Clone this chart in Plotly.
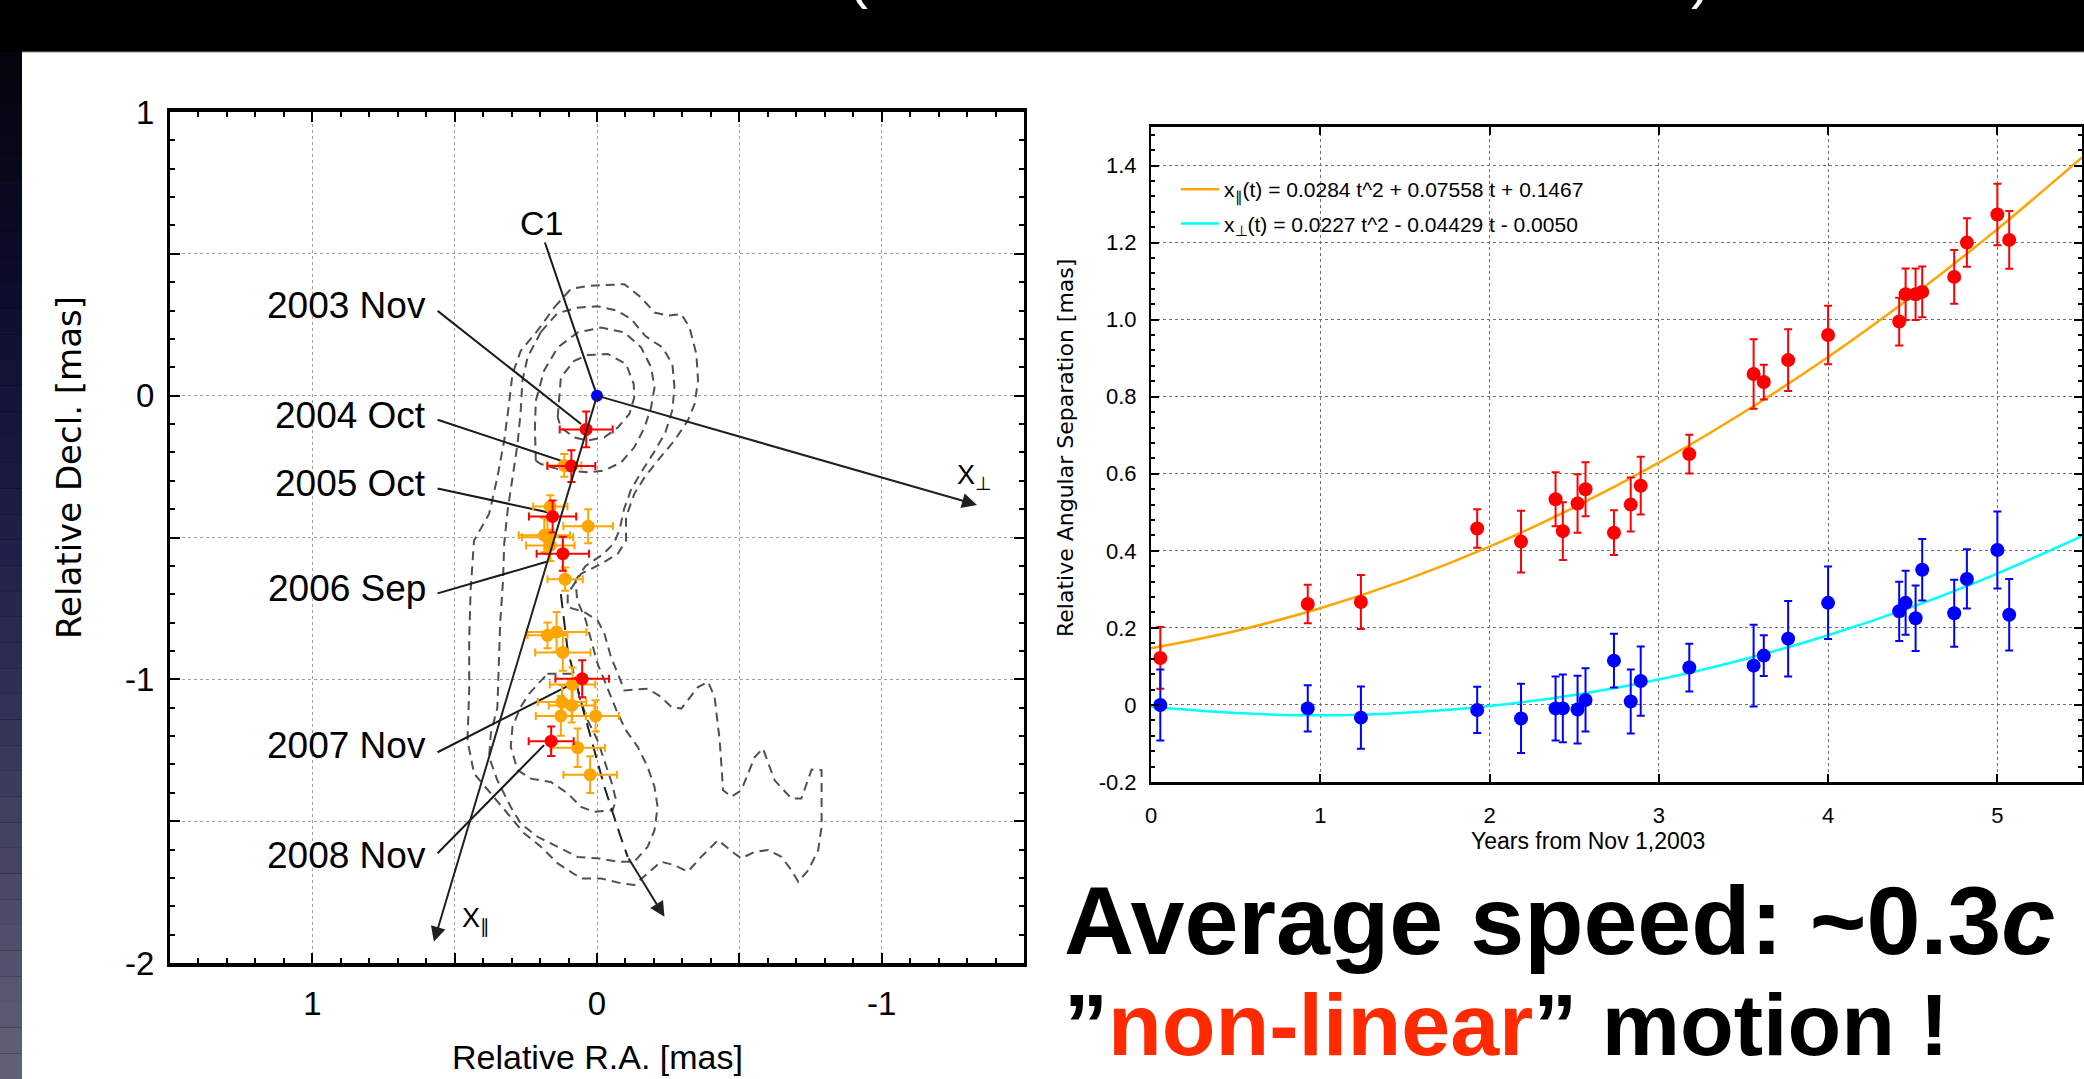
import plotly.graph_objects as go

W, H = 2084, 1079
FONT = "Liberation Sans, Arial, Helvetica, sans-serif"
VFONT = "DejaVu Sans, Verdana, sans-serif"

# ---------------- Left panel: positions on the sky (mas) ----------------
core_ra = [0.0]
core_dec = [0.0]

red_ra = [0.038, 0.090, 0.156, 0.120, 0.052, 0.161]
red_dec = [-0.119, -0.248, -0.426, -0.557, -0.998, -1.218]
red_ra_err = [0.093, 0.084, 0.083, 0.092, 0.094, 0.079]
red_dec_err = [0.063, 0.056, 0.056, 0.060, 0.065, 0.052]

orange_ra = [0.115, 0.164, 0.031, 0.174, 0.164, 0.185, 0.112, 0.174, 0.142, 0.120,
             0.086, 0.123, 0.089, 0.127, 0.005, 0.068, 0.024]
orange_dec = [-0.246, -0.391, -0.460, -0.499, -0.528, -0.492, -0.647, -0.845, -0.833, -0.905,
              -1.018, -1.080, -1.092, -1.129, -1.129, -1.241, -1.336]
orange_ra_err = [0.060, 0.060, 0.087, 0.090, 0.085, 0.090, 0.062, 0.070, 0.105, 0.097,
                 0.080, 0.085, 0.080, 0.088, 0.082, 0.096, 0.094]
orange_dec_err = [0.040, 0.040, 0.060, 0.060, 0.055, 0.060, 0.041, 0.045, 0.070, 0.065,
                  0.060, 0.060, 0.060, 0.070, 0.055, 0.068, 0.065]

# contour rings (dashed)
ringA = [(0.15, 0.311), (0.092, 0.376), (0.033, 0.387), (-0.038, 0.391), (-0.096, 0.393), (-0.155, 0.346),
         (-0.202, 0.293), (-0.249, 0.282), (-0.296, 0.288), (-0.325, 0.241), (-0.349, 0.147), (-0.355, 0.053),
         (-0.343, -0.029), (-0.319, -0.088), (-0.272, -0.158), (-0.213, -0.229), (-0.167, -0.288),
         (-0.131, -0.346), (-0.102, -0.428), (-0.102, -0.511), (-0.073, -0.557), (-0.014, -0.593),
         (0.056, -0.628), (0.103, -0.698), (0.103, -0.745), (0.045, -0.763), (-0.002, -0.792),
         (-0.026, -0.839), (-0.049, -0.921), (-0.073, -0.98), (-0.096, -1.039), (-0.178, -1.033),
         (-0.225, -1.062), (-0.261, -1.097), (-0.296, -1.103), (-0.355, -1.027), (-0.39, -1.009),
         (-0.413, -1.062), (-0.431, -1.215), (-0.443, -1.391), (-0.472, -1.414), (-0.507, -1.391),
         (-0.554, -1.274), (-0.583, -1.244), (-0.624, -1.356), (-0.683, -1.42), (-0.718, -1.42),
         (-0.754, -1.318), (-0.789, -1.32), (-0.789, -1.52), (-0.777, -1.602), (-0.742, -1.673),
         (-0.707, -1.714), (-0.683, -1.673), (-0.648, -1.626), (-0.601, -1.602), (-0.554, -1.608),
         (-0.507, -1.631), (-0.483, -1.614), (-0.425, -1.567), (-0.366, -1.626), (-0.319, -1.678),
         (-0.272, -1.655), (-0.225, -1.643), (-0.178, -1.684), (-0.131, -1.725), (-0.085, -1.719),
         (-0.014, -1.702), (0.056, -1.702), (0.138, -1.649), (0.197, -1.59), (0.256, -1.543),
         (0.314, -1.473), (0.373, -1.402), (0.432, -1.332), (0.455, -1.215), (0.449, -1.039),
         (0.449, -0.863), (0.444, -0.687), (0.432, -0.511), (0.379, -0.417), (0.35, -0.288),
         (0.326, -0.158), (0.309, -0.029), (0.297, 0.076), (0.268, 0.158), (0.209, 0.229), (0.15, 0.311)]
ringB = [(0.197, 0.225), (0.14, 0.29), (0.07, 0.31), (0.0, 0.315), (-0.07, 0.30), (-0.12, 0.27),
         (-0.17, 0.21), (-0.23, 0.17), (-0.265, 0.11), (-0.272, 0.03), (-0.265, -0.05), (-0.24, -0.13),
         (-0.2, -0.2), (-0.155, -0.27), (-0.12, -0.33), (-0.095, -0.4), (-0.08, -0.47), (-0.06, -0.52),
         (-0.02, -0.56), (0.04, -0.6), (0.075, -0.65), (0.07, -0.72), (0.04, -0.79), (0.021, -0.863),
         (-0.002, -0.945), (-0.026, -1.004), (-0.049, -1.062), (-0.073, -1.121), (-0.102, -1.18),
         (-0.143, -1.238), (-0.178, -1.309), (-0.202, -1.379), (-0.213, -1.45), (-0.202, -1.532),
         (-0.178, -1.59), (-0.131, -1.643), (-0.073, -1.643), (-0.002, -1.631), (0.068, -1.626),
         (0.138, -1.59), (0.209, -1.555), (0.268, -1.508), (0.303, -1.45), (0.35, -1.356),
         (0.379, -1.274), (0.373, -1.191), (0.35, -1.1), (0.345, -0.95), (0.34, -0.8), (0.33, -0.65),
         (0.326, -0.522), (0.314, -0.405), (0.297, -0.288), (0.279, -0.17), (0.268, -0.053),
         (0.262, 0.053), (0.244, 0.135), (0.197, 0.225)]
ringC = [(0.215, -0.229), (0.218, -0.112), (0.215, -0.018), (0.186, 0.088), (0.138, 0.17), (0.068, 0.223),
         (-0.014, 0.24), (-0.096, 0.223), (-0.155, 0.17), (-0.19, 0.1), (-0.202, 0.029), (-0.19, -0.041),
         (-0.167, -0.112), (-0.131, -0.182), (-0.085, -0.235), (-0.026, -0.264), (0.033, -0.27),
         (0.127, -0.262), (0.197, -0.241), (0.215, -0.229)]
ringD = [(0.138, -0.076), (0.127, 0.064), (0.08, 0.123), (0.033, 0.143), (-0.038, 0.147), (-0.102, 0.112),
         (-0.129, 0.041), (-0.131, -0.006), (-0.114, -0.064), (-0.073, -0.112), (-0.026, -0.147),
         (0.033, -0.158), (0.08, -0.147), (0.127, -0.112), (0.138, -0.076)]
ringE = [(0.174, -0.98), (0.08, -0.98), (0.062, -1.062), (0.033, -1.144), (-0.002, -1.215), (-0.026, -1.285),
         (-0.049, -1.356), (-0.067, -1.426), (-0.055, -1.461), (0.01, -1.467), (0.056, -1.45),
         (0.103, -1.402), (0.162, -1.362), (0.232, -1.35), (0.279, -1.32), (0.303, -1.238),
         (0.297, -1.168), (0.268, -1.097), (0.238, -1.05), (0.174, -0.98)]
contour_rings = [ringA, ringB, ringC, ringD, ringE]

# trajectory of the knots (long dashes) and its arrow
traj_ra = [0.127, 0.103, 0.045, -0.026, -0.079, -0.108]
traj_dec = [-0.70, -0.898, -1.121, -1.379, -1.543, -1.626]
traj_tip = (-0.237, -1.837)

# epoch labels and their leader lines
epoch_labels = ["2003 Nov", "2004 Oct", "2005 Oct", "2006 Sep", "2007 Nov", "2008 Nov"]
label_ra = 0.595
label_dec = [0.317, -0.07, -0.31, -0.68, -1.232, -1.62]
leader_start = [(0.56, 0.299), (0.56, -0.085), (0.56, -0.327), (0.56, -0.697), (0.56, -1.257), (0.56, -1.613)]
leader_end = [(0.056, -0.10), (0.109, -0.235), (0.174, -0.411), (0.162, -0.581), (0.074, -1.009), (0.186, -1.232)]
c1_label = (0.194, 0.609)
c1_leader = [(0.183, 0.54), (0.0, 0.0)]
xpar_tip = (0.573, -1.925)
xperp_tip = (-1.335, -0.385)
xpar_label = (0.426, -1.849)
xperp_label = (-1.326, -0.288)

# ---------------- Right panel: separation vs time ----------------
t_years = [0.055, 0.926, 1.24, 1.927, 2.186, 2.39, 2.433, 2.52, 2.567, 2.735, 2.834, 2.893, 3.18,
           3.56, 3.62, 3.764, 4.0, 4.42, 4.458, 4.517, 4.556, 4.745, 4.82, 5.0, 5.07]
sep_par = [0.122, 0.262, 0.267, 0.458, 0.424, 0.534, 0.451, 0.523, 0.560, 0.447, 0.520, 0.569, 0.651,
           0.859, 0.838, 0.895, 0.960, 0.995, 1.066, 1.066, 1.072, 1.111, 1.200, 1.273, 1.207]
sep_par_err = [0.08, 0.05, 0.07, 0.05, 0.08, 0.07, 0.075, 0.076, 0.07, 0.058, 0.07, 0.075, 0.05,
               0.09, 0.045, 0.08, 0.076, 0.062, 0.067, 0.067, 0.066, 0.07, 0.063, 0.08, 0.075]
sep_perp = [0.0, -0.009, -0.033, -0.013, -0.035, -0.009, -0.009, -0.012, 0.013, 0.115, 0.009, 0.062, 0.097,
            0.102, 0.128, 0.172, 0.265, 0.243, 0.265, 0.225, 0.351, 0.238, 0.327, 0.402, 0.234]
sep_perp_err = [0.092, 0.06, 0.081, 0.06, 0.09, 0.083, 0.088, 0.088, 0.082, 0.07, 0.083, 0.09, 0.062,
                0.106, 0.053, 0.098, 0.094, 0.077, 0.083, 0.085, 0.08, 0.087, 0.077, 0.1, 0.093]

fit_t = [0.0, 0.5, 1.0, 1.5, 2.0, 2.5, 3.0, 3.5, 4.0, 4.5, 5.0, 5.5]
fit_par = [0.147, 0.192, 0.251, 0.324, 0.411, 0.513, 0.629, 0.759, 0.903, 1.062, 1.235, 1.421]
fit_perp = [-0.005, -0.021, -0.027, -0.020, -0.003, 0.026, 0.066, 0.118, 0.181, 0.255, 0.341, 0.438]
fit_par_name = "x<sub>∥</sub>(t) = 0.0284 t^2 + 0.07558 t + 0.1467"
fit_perp_name = "x<sub>⊥</sub>(t) = 0.0227 t^2 - 0.04429 t - 0.0050"

left_xticks = [1, 0.5, 0, -0.5, -1]
left_xtext = ["1", "", "0", "", "-1"]
left_yticks = [-2, -1.5, -1, -0.5, 0, 0.5, 1]
left_ytext = ["-2", "", "-1", "", "0", "", "1"]
right_xticks = [0, 1, 2, 3, 4, 5]
right_yticks = [-0.2, 0, 0.2, 0.4, 0.6, 0.8, 1.0, 1.2, 1.4]
right_ytext = ["-0.2", "0", "0.2", "0.4", "0.6", "0.8", "1.0", "1.2", "1.4"]


def px(x):
    return x / W


def py(y):
    return 1 - y / H


fig = go.Figure()

# contours
for ring in contour_rings:
    fig.add_trace(go.Scatter(x=[p[0] for p in ring], y=[p[1] for p in ring], mode="lines",
                             line=dict(color="#505050", width=2, dash="9px,6px"),
                             hoverinfo="skip", showlegend=False, xaxis="x", yaxis="y"))

# leader lines
lx, ly = [], []
for s, e in zip(leader_start, leader_end):
    lx += [s[0], e[0], None]
    ly += [s[1], e[1], None]
lx += [c1_leader[0][0], c1_leader[1][0]]
ly += [c1_leader[0][1], c1_leader[1][1]]
fig.add_trace(go.Scatter(x=lx, y=ly, mode="lines", line=dict(color="#1a1a1a", width=2),
                         hoverinfo="skip", showlegend=False, xaxis="x", yaxis="y"))

# trajectory (long dashes)
fig.add_trace(go.Scatter(x=traj_ra, y=traj_dec, mode="lines",
                         line=dict(color="#231f20", width=2, dash="14px,8px"),
                         hoverinfo="skip", showlegend=False, xaxis="x", yaxis="y"))

# orange knots
fig.add_trace(go.Scatter(x=orange_ra, y=orange_dec, mode="markers",
                         marker=dict(color="#ffa500", size=13),
                         error_x=dict(type="data", array=orange_ra_err, color="#ffa500", thickness=2, width=4),
                         error_y=dict(type="data", array=orange_dec_err, color="#ffa500", thickness=2, width=4),
                         showlegend=False, xaxis="x", yaxis="y"))
# red epochs
fig.add_trace(go.Scatter(x=red_ra, y=red_dec, mode="markers",
                         marker=dict(color="#ff0000", size=13),
                         error_x=dict(type="data", array=red_ra_err, color="#ff0000", thickness=2, width=4),
                         error_y=dict(type="data", array=red_dec_err, color="#ff0000", thickness=2, width=4),
                         showlegend=False, xaxis="x", yaxis="y"))
# core
fig.add_trace(go.Scatter(x=core_ra, y=core_dec, mode="markers", marker=dict(color="#0000ff", size=12),
                         showlegend=False, xaxis="x", yaxis="y"))

# right panel fits
fig.add_trace(go.Scatter(x=fit_t, y=fit_par, mode="lines", line=dict(color="#ffa500", width=2.5, shape="spline"),
                         name=fit_par_name, legendgroup="g1", xaxis="x2", yaxis="y2"))
fig.add_trace(go.Scatter(x=fit_t, y=fit_perp, mode="lines", line=dict(color="#00ffff", width=2.5, shape="spline"),
                         name=fit_perp_name, legendgroup="g2", xaxis="x2", yaxis="y2"))
fig.add_trace(go.Scatter(x=t_years, y=sep_par, mode="markers", marker=dict(color="#ff0000", size=14),
                         error_y=dict(type="data", array=sep_par_err, color="#ff0000", thickness=2, width=4),
                         showlegend=False, xaxis="x2", yaxis="y2"))
fig.add_trace(go.Scatter(x=t_years, y=sep_perp, mode="markers", marker=dict(color="#0000ff", size=14),
                         error_y=dict(type="data", array=sep_perp_err, color="#0000ff", thickness=2, width=4),
                         showlegend=False, xaxis="x2", yaxis="y2"))

ann = []
# epoch labels
for t, d in zip(epoch_labels, label_dec):
    ann.append(dict(x=label_ra, y=d, xref="x", yref="y", text=t, showarrow=False,
                    xanchor="right", yanchor="middle",
                    font=dict(family=FONT, size=37, color="black")))
ann.append(dict(x=c1_label[0], y=c1_label[1], xref="x", yref="y", text="C1", showarrow=False,
                xanchor="center", yanchor="middle", font=dict(family=FONT, size=34, color="black")))
ann.append(dict(x=xperp_label[0], y=xperp_label[1], xref="x", yref="y", text="X<sub>⊥</sub>", showarrow=False,
                xanchor="center", yanchor="middle", font=dict(family=FONT, size=27, color="black")))
ann.append(dict(x=xpar_label[0], y=xpar_label[1], xref="x", yref="y", text="X<sub>∥</sub>", showarrow=False,
                xanchor="center", yanchor="middle", font=dict(family=FONT, size=27, color="black")))
# arrows
for tip, tail in [(xpar_tip, (0.0, 0.0)), (xperp_tip, (0.0, 0.0)), (traj_tip, (traj_ra[-1], traj_dec[-1]))]:
    ann.append(dict(x=tip[0], y=tip[1], ax=tail[0], ay=tail[1], xref="x", yref="y", axref="x", ayref="y",
                    text="", showarrow=True, arrowhead=2, arrowsize=1.5, arrowwidth=2, arrowcolor="#231f20",
                    standoff=0, startstandoff=0))
# axis titles
ann.append(dict(x=px(69), y=py(468), xref="paper", yref="paper", text="Relative Decl. [mas]", textangle=-90,
                xanchor="center", yanchor="middle",
                showarrow=False, font=dict(family=VFONT, size=34, color="black")))
ann.append(dict(x=px(597), y=py(1057), xref="paper", yref="paper", text="Relative R.A. [mas]",
                xanchor="center", yanchor="middle",
                showarrow=False, font=dict(family=FONT, size=34, color="black")))
ann.append(dict(x=px(1065), y=py(448), xref="paper", yref="paper", text="Relative Angular Separation [mas]",
                textangle=-90, xanchor="center", yanchor="middle",
                showarrow=False, font=dict(family=VFONT, size=22, color="black")))
ann.append(dict(x=px(1588), y=py(841), xref="paper", yref="paper", text="Years from Nov 1,2003",
                xanchor="center", yanchor="middle",
                showarrow=False, font=dict(family=FONT, size=23, color="black")))
# slide text
ann.append(dict(x=px(1062), y=py(920), xref="paper", yref="paper", xanchor="left", yanchor="middle",
                text="<b>Average speed: ~0.3<i>c</i></b>", showarrow=False,
                font=dict(family=FONT, size=97, color="black")))
ann.append(dict(x=px(1062), y=py(1024), xref="paper", yref="paper", xanchor="left", yanchor="middle",
                text='<b>”<span style="color:#ff2a00">non-linear</span>” motion !</b>', showarrow=False,
                font=dict(family=FONT, size=88, color="black")))
# fragments of the slide title cut off at the top
for xx, ch in [(858, "("), (1701, ")")]:
    ann.append(dict(x=px(xx), y=py(12), xref="paper", yref="paper", xanchor="center", yanchor="bottom",
                    text=ch, showarrow=False, font=dict(family=FONT, size=60, color="white")))

# background shapes: white slide area and gradient strip
shapes = [dict(type="rect", xref="paper", yref="paper", x0=px(22), x1=1, y0=0, y1=py(52),
               fillcolor="white", line=dict(width=0), layer="below"),
          dict(type="line", xref="paper", yref="paper", x0=px(22), x1=1, y0=py(52), y1=py(52),
               line=dict(color="#8a8a8a", width=1), layer="below")]
stops = [(52, (4, 4, 12)), (300, (14, 14, 46)), (550, (32, 32, 74)), (800, (62, 62, 94)), (1079, (98, 98, 120))]
nb = 40
for i in range(nb):
    y0 = 52 + (1079 - 52) * i / nb
    y1 = 52 + (1079 - 52) * (i + 1) / nb
    ym = (y0 + y1) / 2
    for (a, ca), (b, cb) in zip(stops[:-1], stops[1:]):
        if a <= ym <= b:
            f = (ym - a) / (b - a)
            col = tuple(int(ca[k] + (cb[k] - ca[k]) * f) for k in range(3))
            break
    shapes.append(dict(type="rect", xref="paper", yref="paper", x0=0, x1=px(22), y0=py(y1), y1=py(y0),
                       fillcolor="rgb(%d,%d,%d)" % col, line=dict(width=0), layer="below"))

fig.update_layout(
    width=W, height=H, autosize=False,
    margin=dict(l=0, r=0, t=0, b=0, pad=0, autoexpand=False),
    paper_bgcolor="black", plot_bgcolor="white",
    showlegend=True,
    legend=dict(x=px(1176), y=py(169), xanchor="left", yanchor="top", bgcolor="rgba(0,0,0,0)",
                font=dict(family=FONT, size=21, color="black"), itemwidth=38, tracegroupgap=4),
    xaxis=dict(domain=[px(170), px(1024)], range=[1.5, -1.5], anchor="y", automargin=False,
               tickmode="array", tickvals=left_xticks, ticktext=left_xtext,
               ticks="inside", ticklen=10, tickwidth=2, tickcolor="black",
               showline=True, linewidth=4, linecolor="black", mirror="allticks",
               showgrid=True, gridcolor="#a0a0a0", gridwidth=1, griddash="dot", zeroline=False,
               tickfont=dict(family=FONT, size=33, color="black"), ticklabelstandoff=8,
               minor=dict(dtick=0.1, tick0=0, ticks="inside", ticklen=5, tickwidth=1.5,
                          tickcolor="black", showgrid=False)),
    yaxis=dict(domain=[py(963), py(112)], range=[-2, 1], anchor="x", automargin=False,
               tickmode="array", tickvals=left_yticks, ticktext=left_ytext,
               ticks="inside", ticklen=10, tickwidth=2, tickcolor="black",
               showline=True, linewidth=3, linecolor="black", mirror="allticks",
               showgrid=True, gridcolor="#a0a0a0", gridwidth=1, griddash="dot", zeroline=False,
               tickfont=dict(family=FONT, size=33, color="black"), ticklabelstandoff=6,
               minor=dict(dtick=0.1, tick0=0, ticks="inside", ticklen=5, tickwidth=1.5,
                          tickcolor="black", showgrid=False)),
    xaxis2=dict(domain=[px(1151), px(2082)], range=[0, 5.5], anchor="y2", automargin=False,
                tickmode="array", tickvals=right_xticks, ticktext=[str(v) for v in right_xticks],
                ticks="inside", ticklen=8, tickwidth=2, tickcolor="black",
                showline=True, linewidth=3, linecolor="black", mirror="allticks",
                showgrid=True, gridcolor="#707070", gridwidth=1, griddash="3px,3px", zeroline=False,
                tickfont=dict(family=FONT, size=22, color="black"), ticklabelstandoff=12),
    yaxis2=dict(domain=[py(782), py(127)], range=[-0.2, 1.5], anchor="x2", automargin=False,
                tickmode="array", tickvals=right_yticks, ticktext=right_ytext,
                ticks="inside", ticklen=8, tickwidth=2, tickcolor="black",
                showline=True, linewidth=2, linecolor="black", mirror="allticks",
                showgrid=True, gridcolor="#707070", gridwidth=1, griddash="dot", zeroline=False,
                tickfont=dict(family=FONT, size=22, color="black"), ticklabelstandoff=8,
                minor=dict(dtick=0.04, tick0=0, ticks="inside", ticklen=4, tickwidth=1.5,
                           tickcolor="black", showgrid=False)),
    annotations=ann,
    shapes=shapes,
)

fig.write_html("out.html")
